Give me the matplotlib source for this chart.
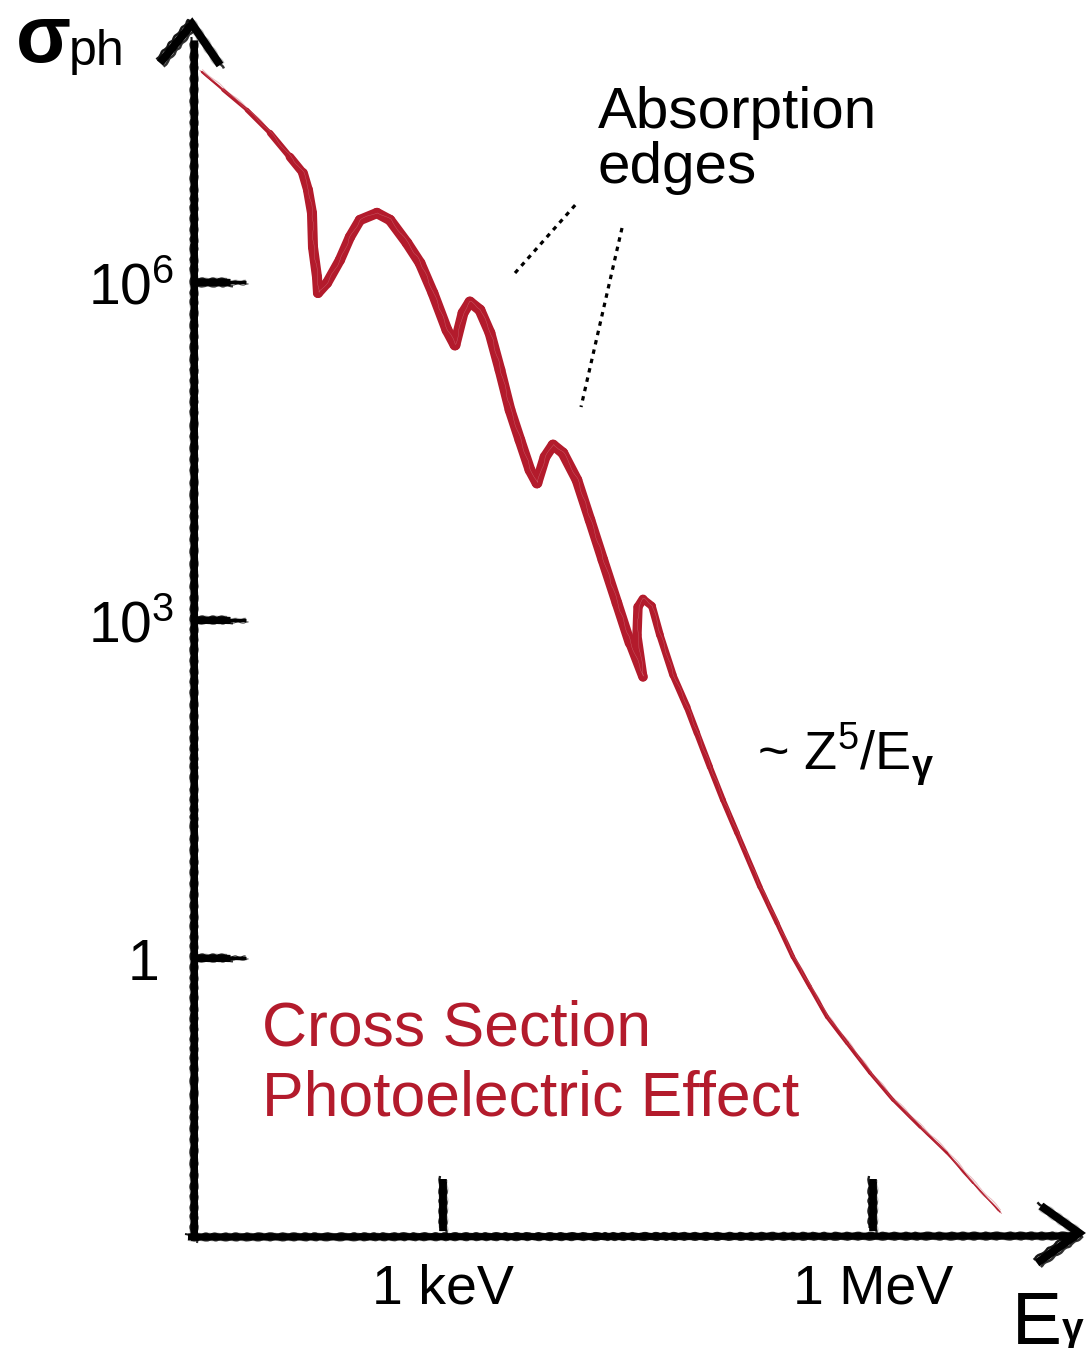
import numpy as np
import matplotlib
matplotlib.use('Agg')
import matplotlib.pyplot as plt
from matplotlib.collections import LineCollection
from matplotlib import transforms

plt.rcParams['font.family'] = ['Liberation Sans', 'DejaVu Sans']
plt.rcParams['mathtext.fontset'] = 'custom'
plt.rcParams['mathtext.rm'] = 'Liberation Sans'
plt.rcParams['mathtext.it'] = 'Liberation Sans:italic'
plt.rcParams['mathtext.bf'] = 'Liberation Sans:bold'

W, H = 1091, 1357
RED = '#b31b2c'

# photoelectric cross section
# log10(E / eV) and log10(sigma)
log_energy = [1.318, 1.465, 1.632, 1.793, 1.932, 2.023, 2.058, 2.086, 2.093,
              2.121, 2.128, 2.191, 2.281, 2.351, 2.421, 2.539, 2.630, 2.749,
              2.840, 2.930, 3.028, 3.084, 3.140, 3.188, 3.258, 3.328, 3.398,
              3.468, 3.537, 3.607, 3.656, 3.712, 3.768, 3.837, 3.935, 4.026,
              4.116, 4.214, 4.305, 4.396, 4.354, 4.361, 4.396, 4.458, 4.514,
              4.605, 4.703, 4.772, 4.863, 4.954, 5.052, 5.212, 5.331, 5.442,
              5.561, 5.680, 5.819, 5.980, 6.140, 6.329, 6.517, 6.698, 6.887]
log_sigma = [7.869, 7.709, 7.531, 7.327, 7.114, 6.972, 6.821, 6.616, 6.314,
             6.048, 5.906, 5.995, 6.199, 6.403, 6.554, 6.616, 6.554, 6.350,
             6.172, 5.906, 5.577, 5.444, 5.728, 5.826, 5.755, 5.551, 5.222,
             4.867, 4.600, 4.334, 4.218, 4.449, 4.556, 4.485, 4.245, 3.890,
             3.535, 3.153, 2.797, 2.496, 2.869, 3.117, 3.188, 3.126, 2.869,
             2.513, 2.229, 1.998, 1.696, 1.403, 1.110, 0.631, 0.311, 0.009,
             -0.258, -0.524, -0.755, -1.021, -1.261, -1.501, -1.732, -1.998,
             -2.256]

ytick_values = [1, 1e3, 1e6]
ytick_labels = ['1', r'$10^3$', r'$10^6$']
xtick_values = [1e3, 1e6]
xtick_labels = ['1 keV', '1 MeV']

energy = 10 ** np.array(log_energy)
sigma = 10 ** np.array(log_sigma)

fig = plt.figure(figsize=(W / 100, H / 100), dpi=100)

# data axes covering the whole canvas (log-log)
ax = fig.add_axes([0, 0, 1, 1])
ax.set_xscale('log')
ax.set_yscale('log')
ax.set_xlim(10 ** -0.091, 10 ** 7.522)
ax.set_ylim(10 ** -3.544, 10 ** 8.508)
ax.axis('off')

# overlay in pixel units for the hand drawn furniture
ov = fig.add_axes([0, 0, 1, 1], facecolor='none')
ov.set_xlim(0, W)
ov.set_ylim(H, 0)
ov.axis('off')


def brush(axis, xs, ys, lw, color='black', transform=None):
    kw = {} if transform is None else {'transform': transform}
    main, = axis.plot(xs, ys, color=color, lw=lw, solid_capstyle='butt',
                      solid_joinstyle='miter', **kw)
    for off, frac, a in [(-0.45, 0.3, 0.9), (0.45, 0.3, 0.8), (0.0, 1.15, 0.25)]:
        t = transforms.offset_copy(main.get_transform(), fig=fig,
                                   x=off * lw, y=-off * lw, units='points')
        ln, = axis.plot(xs, ys, color=color, lw=lw * frac, alpha=a,
                        solid_capstyle='butt', transform=t)
        ln.set_sketch_params(0.6, 12, 2)


# axes lines and arrows
brush(ov, [194, 194], [1240, 40], 5.0)
brush(ov, [188, 1074], [1237, 1236], 4.8)
brush(ov, [160, 192, 220], [63, 24, 65], 5.8)
brush(ov, [1041, 1079, 1037], [1206, 1233, 1263], 5.8)

# ticks
ytr = ax.get_yaxis_transform()
for v, lab in zip(ytick_values, ytick_labels):
    brush(ax, [195 / W, 230 / W], [v, v], 5.0, transform=ytr)
    brush(ax, [195 / W, 246 / W], [v, v], 2.4, transform=ytr)
    tx = 0.146 if lab == '1' else 0.1595
    t = transforms.offset_copy(ytr, fig=fig, y=-22, units='dots')
    ax.text(tx, v, lab, fontsize=41, ha='right', va='baseline', transform=t)

xtr = ax.get_xaxis_transform()
for v, lab in zip(xtick_values, xtick_labels):
    brush(ax, [v, v], [(H - 1179) / H, (H - 1231) / H], 5.5, transform=xtr)
    ax.text(v, (H - 1303) / H, lab, fontsize=40, ha='center', va='baseline',
            transform=xtr)

# cross section curve with a brush like, varying width
knots_e = [1.3, 1.8, 2.05, 3.0, 4.3, 4.42, 4.9, 5.5, 6.3, 6.9]
knots_w = [1.2, 3.8, 7.2, 7.8, 7.6, 5.8, 4.2, 3.1, 2.2, 0.8]
pts = np.column_stack([energy, sigma])
segs = np.stack([pts[:-1], pts[1:]], axis=1)
mid = 0.5 * (np.array(log_energy[:-1]) + np.array(log_energy[1:]))
widths = np.interp(mid, knots_e, knots_w)
lc = LineCollection(segs, linewidths=widths, colors=RED, capstyle='round',
                    joinstyle='round', zorder=3)
ax.add_collection(lc)
for dx, dy, a in [(-1.8, 1.4, 0.5), (1.6, -1.2, 0.45), (0.7, 2.2, 0.3)]:
    t = transforms.offset_copy(ax.transData, fig=fig, x=dx, y=dy, units='dots')
    ln, = ax.plot(energy, sigma, color=RED, lw=0.7, alpha=a, transform=t,
                  zorder=3)
    ln.set_sketch_params(0.5, 30, 2)
t = transforms.offset_copy(ax.transData, fig=fig, x=0.6, y=0.6, units='dots')
ln, = ax.plot(energy, sigma, color='white', lw=0.3, alpha=0.3,
              transform=t, zorder=4)
ln.set_sketch_params(0.6, 30, 3)

# annotations
ov.plot([515, 577], [273, 203], color='black', lw=2.3, ls=(0, (1.4, 1.6)))
ov.plot([622, 581], [228, 407], color='black', lw=2.3, ls=(0, (1.4, 1.6)))
ov.text(598, 128, 'Absorption', fontsize=42, va='baseline')
ov.text(598, 183, 'edges', fontsize=42, va='baseline')
ov.text(757, 770, r'~ Z$^5$/E$_{\mathbf{γ}}$', fontsize=39, va='baseline')
ov.text(262, 1045, 'Cross Section', fontsize=45, color=RED, va='baseline')
ov.text(262, 1115, 'Photoelectric Effect', fontsize=45, color=RED, va='baseline')

# axis titles
ov.text(16, 62, 'σ', fontsize=58, fontweight='bold', va='baseline')
ov.text(69, 65, 'ph', fontsize=36, va='baseline')
ov.text(1012, 1344, 'E', fontsize=54, va='baseline')
ov.text(1062, 1340, 'γ', fontsize=28, fontweight='bold', va='baseline')

fig.savefig('out.png', dpi=100, facecolor='white')
